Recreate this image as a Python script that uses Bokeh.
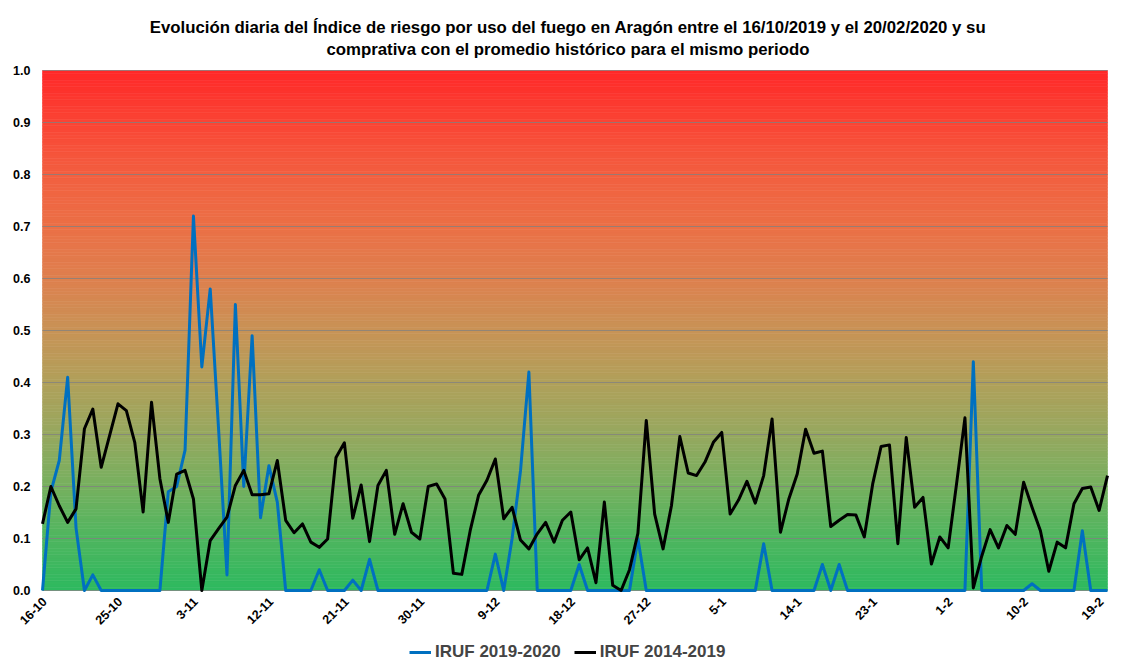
from bokeh.plotting import figure
from bokeh.models import FixedTicker, Legend, LegendItem, ColumnDataSource, Title
from bokeh.core.properties import value
from bokeh.embed import file_html
from bokeh.resources import INLINE
import math

# ---- data -------------------------------------------------------------
tick_days = [0, 9, 18, 27, 36, 45, 54, 63, 72, 81, 90, 99, 108, 117, 126]
tick_labels = ["16-10", "25-10", "3-11", "12-11", "21-11", "30-11", "9-12", "18-12",
               "27-12", "5-1", "14-1", "23-1", "1-2", "10-2", "19-2"]

y_ticks = [0.0, 0.1, 0.2, 0.3, 0.4, 0.5, 0.6, 0.7, 0.8, 0.9, 1.0]
y_labels = ["0.0", "0.1", "0.2", "0.3", "0.4", "0.5", "0.6", "0.7", "0.8", "0.9", "1.0"]

iruf_2019_2020 = [
    0.00, 0.19, 0.25, 0.41, 0.12, 0.00, 0.03, 0.00, 0.00, 0.00,
    0.00, 0.00, 0.00, 0.00, 0.00, 0.19, 0.20, 0.27, 0.72, 0.43,
    0.58, 0.31, 0.03, 0.55, 0.20, 0.49, 0.14, 0.24, 0.17, 0.00,
    0.00, 0.00, 0.00, 0.04, 0.00, 0.00, 0.00, 0.02, 0.00, 0.06,
    0.00, 0.00, 0.00, 0.00, 0.00, 0.00, 0.00, 0.00, 0.00, 0.00,
    0.00, 0.00, 0.00, 0.00, 0.07, 0.00, 0.10, 0.23, 0.42, 0.00,
    0.00, 0.00, 0.00, 0.00, 0.05, 0.00, 0.00, 0.00, 0.00, 0.00,
    0.00, 0.10, 0.00, 0.00, 0.00, 0.00, 0.00, 0.00, 0.00, 0.00,
    0.00, 0.00, 0.00, 0.00, 0.00, 0.00, 0.09, 0.00, 0.00, 0.00,
    0.00, 0.00, 0.00, 0.05, 0.00, 0.05, 0.00, 0.00, 0.00, 0.00,
    0.00, 0.00, 0.00, 0.00, 0.00, 0.00, 0.00, 0.00, 0.00, 0.00,
    0.00, 0.44, 0.00, 0.00, 0.00, 0.00, 0.00, 0.00, 0.013, 0.00,
    0.00, 0.00, 0.00, 0.00, 0.115, 0.00, 0.00, 0.00,
]

iruf_2014_2019 = [
    0.128, 0.200, 0.163, 0.131, 0.157, 0.311, 0.349, 0.237, 0.298, 0.359,
    0.346, 0.285, 0.151, 0.362, 0.215, 0.131, 0.224, 0.231, 0.176, 0.000,
    0.096, 0.119, 0.141, 0.202, 0.231, 0.184, 0.184, 0.186, 0.250, 0.135,
    0.111, 0.128, 0.093, 0.083, 0.099, 0.256, 0.284, 0.139, 0.203, 0.094,
    0.202, 0.231, 0.108, 0.167, 0.112, 0.099, 0.200, 0.205, 0.176, 0.033,
    0.031, 0.115, 0.183, 0.212, 0.253, 0.138, 0.160, 0.097, 0.080, 0.109,
    0.131, 0.093, 0.135, 0.151, 0.059, 0.082, 0.015, 0.170, 0.010, 0.000,
    0.040, 0.110, 0.327, 0.147, 0.080, 0.163, 0.296, 0.226, 0.221, 0.247,
    0.285, 0.304, 0.147, 0.174, 0.210, 0.168, 0.221, 0.330, 0.112, 0.176,
    0.224, 0.310, 0.264, 0.268, 0.123, 0.135, 0.146, 0.145, 0.103, 0.205,
    0.277, 0.280, 0.090, 0.294, 0.160, 0.179, 0.051, 0.103, 0.082, 0.205,
    0.332, 0.005, 0.066, 0.117, 0.082, 0.125, 0.108, 0.208, 0.160, 0.115,
    0.037, 0.093, 0.082, 0.167, 0.196, 0.199, 0.154, 0.221,
]

days = list(range(len(iruf_2014_2019)))

title_line1 = ("Evolución diaria del Índice de riesgo por uso del fuego en Aragón entre el "
               "16/10/2019 y el 20/02/2020 y su")
title_line2 = "comprativa con el promedio histórico para el mismo periodo"
series_names = ["IRUF 2019-2020", "IRUF 2014-2019"]

# ---- styling ----------------------------------------------------------
FONT = "Liberation Sans"
grad_stops = [(0.0, (45, 185, 95)), (0.1, (78, 182, 95)), (0.2, (118, 176, 95)),
              (0.3, (150, 168, 95)), (0.4, (176, 160, 90)), (0.5, (200, 147, 86)),
              (0.6, (222, 128, 78)), (0.7, (235, 112, 70)), (0.8, (242, 95, 64)),
              (0.9, (250, 68, 52)), (1.0, (255, 40, 40))]


def grad_color(t):
    for (a, ca), (b, cb) in zip(grad_stops[:-1], grad_stops[1:]):
        if a <= t <= b:
            f = (t - a) / (b - a)
            c = [round(ca[k] + (cb[k] - ca[k]) * f) for k in range(3)]
            return "#%02x%02x%02x" % tuple(c)
    return "#%02x%02x%02x" % grad_stops[-1][1]


# geometry in figure pixels: the frame spans nearly the full width and reaches the
# bottom, so the axis labels and the legend drawn inside it are never clipped
FIG_W, FIG_H = 1125, 666
FRAME_TOP, FRAME_LEFT = 62, 10
PLOT_LEFT, PLOT_RIGHT = 42, 1107      # pixel x of the first / last day
TOP_PX, ZERO_PX = 70, 590             # pixel y of 1.0 and 0.0
n_days = len(days)
px_per_day = (PLOT_RIGHT - PLOT_LEFT) / (n_days - 1)
px_per_unit = ZERO_PX - TOP_PX
x_min = -(PLOT_LEFT - FRAME_LEFT) / px_per_day
x_max = (n_days - 1) + (FIG_W - PLOT_RIGHT) / px_per_day
y_max = 1.0 + (TOP_PX - FRAME_TOP) / px_per_unit
y_min = -(FIG_H - ZERO_PX) / px_per_unit

p = figure(width=FIG_W, height=FIG_H, output_backend="svg", toolbar_location=None,
           title=None, x_range=(x_min, x_max), y_range=(y_min, y_max),
           min_border_left=FRAME_LEFT, min_border_right=0, min_border_top=FRAME_TOP,
           min_border_bottom=0)

# two centred title lines (first added sits nearest the frame)
p.add_layout(Title(text=title_line2, align="center", standoff=8,
                   text_font=FONT, text_font_size="16.8px", text_font_style="bold",
                   text_color="#000000"), "above")
p.add_layout(Title(text=title_line1, align="center", standoff=-6,
                   text_font=FONT, text_font_size="16.8px", text_font_style="bold",
                   text_color="#000000"), "above")

# gradient background bands over the 0..1 scale
N = 160
bands = ColumnDataSource(dict(
    bottom=[k / N for k in range(N)],
    top=[(k + 1) / N for k in range(N)],
    color=[grad_color((k + 0.5) / N) for k in range(N)],
))
bg = p.quad(left=days[0], right=days[-1], bottom="bottom", top="top",
            fill_color="color", line_color="color", line_width=0.6, source=bands)
bg.level = "image"

# horizontal gridlines limited to the plot area
p.segment(x0=days[0], x1=days[-1], y0=y_ticks, y1=y_ticks,
          line_color="#7f7f7f", line_alpha=0.75, line_width=1)

p.background_fill_color = "white"
p.border_fill_color = "white"
p.outline_line_color = None
p.xgrid.visible = False
p.ygrid.visible = False

# y axis drawn at the first day
p.yaxis.ticker = FixedTicker(ticks=y_ticks)
p.yaxis.major_label_overrides = {t: l for t, l in zip(y_ticks, y_labels)}
p.yaxis.fixed_location = days[0]
p.yaxis.major_label_text_font = FONT
p.yaxis.major_label_text_font_size = "12.5px"
p.yaxis.major_label_text_font_style = "bold"
p.yaxis.major_label_text_color = "#000000"
p.yaxis.major_tick_line_color = None
p.yaxis.minor_tick_line_color = None
p.yaxis.major_tick_out = 0
p.yaxis.major_tick_in = 0
p.yaxis.axis_line_color = None
p.yaxis.major_label_standoff = 12

# x axis: labels drawn rotated under the 0.0 line
p.xaxis.visible = False
p.text(x=tick_days, y=[0.0] * len(tick_days), text=tick_labels,
       angle=math.pi / 4, text_align="right", text_baseline="middle",
       x_offset=2, y_offset=9, text_font=value(FONT), text_font_size="12.5px",
       text_font_style="bold", text_color="#000000")

r1 = p.line(days, iruf_2019_2020, line_color="#0070c0", line_width=3, line_join="round")
r2 = p.line(days, iruf_2014_2019, line_color="#000000", line_width=3, line_join="round")

legend = Legend(items=[LegendItem(label=series_names[0], renderers=[r1]),
                       LegendItem(label=series_names[1], renderers=[r2])],
                orientation="horizontal", location=(399, 4),
                padding=0, margin=0, spacing=13, glyph_width=22, glyph_height=18,
                label_standoff=4, label_height=18,
                label_text_font=FONT, label_text_font_size="17px", label_text_font_style="bold",
                background_fill_alpha=0, border_line_alpha=0)
p.add_layout(legend, "center")

open("out.html", "w").write(file_html(p, INLINE))
